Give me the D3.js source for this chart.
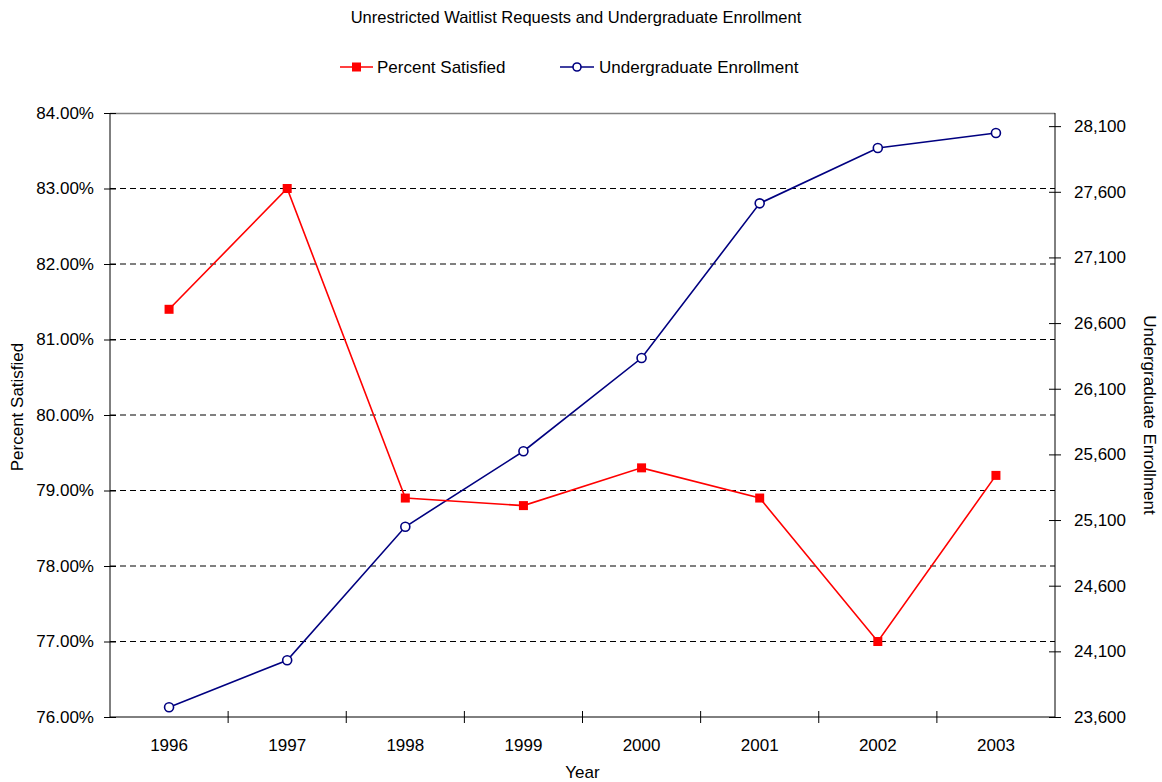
<!DOCTYPE html>
<meta charset="utf-8">
<head>
  <script src="https://d3js.org/d3.v7.min.js"></script>
  <style>
    body { margin: 0; background: #fff; }
    svg text { font-family: "Liberation Sans", Arial, sans-serif; fill: #000; }
  </style>
</head>
<body>
<div id="chart"></div>
<script>
"use strict"

var anos = ["1996", "1997", "1998", "1999", "2000", "2001", "2002", "2003"];
var percentSatisfied = [81.4, 83.0, 78.9, 78.8, 79.3, 78.9, 77.0, 79.2];
var enrollment = [23674, 24032, 25049, 25624, 26334, 27512, 27934, 28048];
var ticksEsq = [76, 77, 78, 79, 80, 81, 82, 83, 84];
var ticksDir = [23600, 24100, 24600, 25100, 25600, 26100, 26600, 27100, 27600, 28100];

var larguraSVG = 1162, alturaSVG = 782;
var margin = {top: 113, right: 107, bottom: 65, left: 110},
    larguraVis = larguraSVG - margin.left - margin.right,
    alturaVis = alturaSVG - margin.top - margin.bottom;

var svg = d3.select('#chart').append('svg')
    .attr('width', larguraSVG)
    .attr('height', alturaSVG);

var grafico = svg.append('g')
    .attr('transform', 'translate(' + margin.left + ',' + margin.top + ')');

var x = d3.scaleBand().domain(anos).range([0, larguraVis]);
var yEsq = d3.scaleLinear().domain([76, 84]).range([alturaVis, 0]);
var yDir = d3.scaleLinear().domain([23600, 28200]).range([alturaVis, 0]);

// gridlines tracejadas
grafico.append('g').selectAll('line')
  .data(ticksEsq.slice(1, -1))
  .enter().append('line')
    .attr('x1', 0).attr('x2', larguraVis)
    .attr('y1', d => yEsq(d)).attr('y2', d => yEsq(d))
    .attr('stroke', '#000')
    .attr('stroke-dasharray', '6,4')
    .attr('stroke-width', 1);

// borda de cima
grafico.append('line')
  .attr('x1', 0).attr('x2', larguraVis).attr('y1', 0.5).attr('y2', 0.5)
  .attr('stroke', '#808080').attr('stroke-width', 1.5);

// eixo esquerdo
var eixoEsq = grafico.append('g')
  .call(d3.axisLeft(yEsq).tickValues(ticksEsq).tickSize(6).tickFormat(d => d.toFixed(2) + '%'));
eixoEsq.selectAll('.tick line').attr('x1', 6);
eixoEsq.select('.domain').attr('d', 'M0,0V' + alturaVis);

// eixo direito
var eixoDir = grafico.append('g')
  .attr('transform', 'translate(' + larguraVis + ',0)')
  .call(d3.axisRight(yDir).tickValues(ticksDir).tickSize(6).tickFormat(d3.format(',')));
eixoDir.selectAll('.tick line').attr('x1', -6);
eixoDir.select('.domain').attr('d', 'M0,0V' + alturaVis);

// eixo x com ticks entre as categorias
var eixoX = grafico.append('g')
  .attr('transform', 'translate(0,' + alturaVis + ')')
  .call(d3.axisBottom(x).tickSize(0).tickPadding(22));
eixoX.select('.domain').attr('d', 'M0,0H' + larguraVis);
eixoX.selectAll('.divisao')
  .data(anos.slice(1))
  .enter().append('line')
    .attr('x1', d => x(d)).attr('x2', d => x(d))
    .attr('y1', -6).attr('y2', 6)
    .attr('stroke', '#000');

[eixoEsq, eixoDir, eixoX].forEach(function(e) {
  e.selectAll('path, line').attr('stroke', '#000').attr('stroke-width', 1);
  e.selectAll('text').style('font-size', '17px').attr('fill', '#000');
});
eixoEsq.selectAll('.tick text').attr('x', -16);
eixoDir.selectAll('.tick text').attr('x', 19);

var cx = d => x(d) + x.bandwidth() / 2;

// linha de matrícula
var linhaDir = d3.line().x((d, i) => cx(anos[i])).y(d => yDir(d));
grafico.append('path')
  .datum(enrollment)
  .attr('d', linhaDir)
  .attr('fill', 'none')
  .attr('stroke', '#000080')
  .attr('stroke-width', 1.6);

// linha de percentual
var linhaEsq = d3.line().x((d, i) => cx(anos[i])).y(d => yEsq(d));
grafico.append('path')
  .datum(percentSatisfied)
  .attr('d', linhaEsq)
  .attr('fill', 'none')
  .attr('stroke', '#ff0000')
  .attr('stroke-width', 1.6);

grafico.selectAll('.quadrado')
  .data(percentSatisfied)
  .enter().append('rect')
    .attr('x', (d, i) => cx(anos[i]) - 4.5)
    .attr('y', d => yEsq(d) - 4.5)
    .attr('width', 9).attr('height', 9)
    .attr('fill', '#ff0000');

grafico.selectAll('.circulo')
  .data(enrollment)
  .enter().append('circle')
    .attr('cx', (d, i) => cx(anos[i]))
    .attr('cy', d => yDir(d))
    .attr('r', 4.5)
    .attr('fill', '#fff')
    .attr('stroke', '#000080')
    .attr('stroke-width', 1.6);

// textos
svg.append('text')
  .attr('x', 576).attr('y', 23)
  .attr('text-anchor', 'middle')
  .style('font-size', '16.5px')
  .text('Unrestricted Waitlist Requests and Undergraduate Enrollment');

svg.append('text')
  .attr('x', margin.left + larguraVis / 2).attr('y', 778)
  .attr('text-anchor', 'middle')
  .style('font-size', '17px')
  .text('Year');

svg.append('text')
  .attr('transform', 'translate(23,' + (margin.top + alturaVis / 2 - 8) + ') rotate(-90)')
  .attr('text-anchor', 'middle')
  .style('font-size', '17px')
  .text('Percent Satisfied');

svg.append('text')
  .attr('transform', 'translate(1144,' + (margin.top + alturaVis / 2) + ') rotate(90)')
  .attr('text-anchor', 'middle')
  .style('font-size', '17px')
  .text('Undergraduate Enrollment');

// legenda
var legenda = svg.append('g');
legenda.append('line').attr('x1', 340).attr('x2', 373).attr('y1', 67).attr('y2', 67)
  .attr('stroke', '#ff0000').attr('stroke-width', 1.6);
legenda.append('rect').attr('x', 352).attr('y', 62.5).attr('width', 9).attr('height', 9)
  .attr('fill', '#ff0000');
legenda.append('text').attr('x', 377).attr('y', 73).style('font-size', '17px')
  .text('Percent Satisfied');
legenda.append('line').attr('x1', 560).attr('x2', 594).attr('y1', 67).attr('y2', 67)
  .attr('stroke', '#000080').attr('stroke-width', 1.6);
legenda.append('circle').attr('cx', 577).attr('cy', 67).attr('r', 4)
  .attr('fill', '#fff').attr('stroke', '#000080').attr('stroke-width', 1.6);
legenda.append('text').attr('x', 599).attr('y', 73).style('font-size', '17px')
  .text('Undergraduate Enrollment');
</script>
</body>
</html>
